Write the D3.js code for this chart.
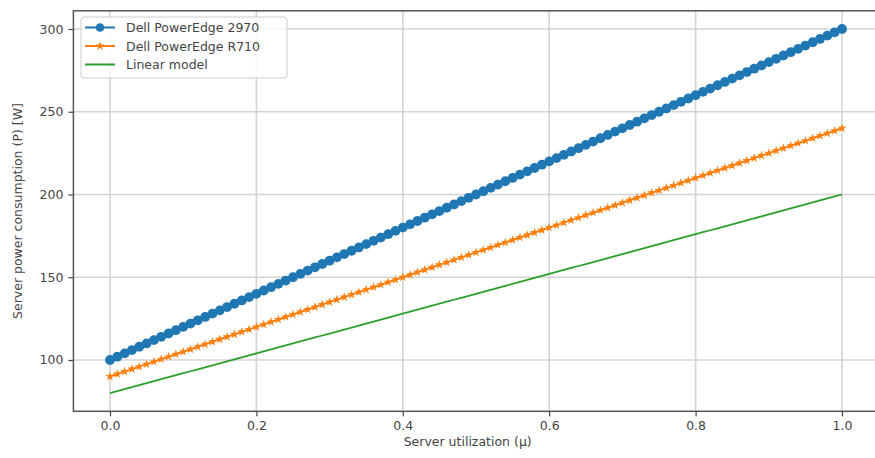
<!DOCTYPE html>
<html>
<head>
<meta charset="utf-8">
<script src="https://cdn.jsdelivr.net/npm/d3@7"></script>
<style>
  body { margin: 0; background: #fff; }
  text { font-family: "DejaVu Sans", sans-serif; fill: #333; }
</style>
</head>
<body>
<div id="chart"></div>
<script>
// utilization steps (dense markers, 0.01 apart)
const utilization = [
  0.00,0.01,0.02,0.03,0.04,0.05,0.06,0.07,0.08,0.09,
  0.10,0.11,0.12,0.13,0.14,0.15,0.16,0.17,0.18,0.19,
  0.20,0.21,0.22,0.23,0.24,0.25,0.26,0.27,0.28,0.29,
  0.30,0.31,0.32,0.33,0.34,0.35,0.36,0.37,0.38,0.39,
  0.40,0.41,0.42,0.43,0.44,0.45,0.46,0.47,0.48,0.49,
  0.50,0.51,0.52,0.53,0.54,0.55,0.56,0.57,0.58,0.59,
  0.60,0.61,0.62,0.63,0.64,0.65,0.66,0.67,0.68,0.69,
  0.70,0.71,0.72,0.73,0.74,0.75,0.76,0.77,0.78,0.79,
  0.80,0.81,0.82,0.83,0.84,0.85,0.86,0.87,0.88,0.89,
  0.90,0.91,0.92,0.93,0.94,0.95,0.96,0.97,0.98,0.99,
  1.00
];

const power2970 = [
  100,102,104,106,108,110,112,114,116,118,
  120,122,124,126,128,130,132,134,136,138,
  140,142,144,146,148,150,152,154,156,158,
  160,162,164,166,168,170,172,174,176,178,
  180,182,184,186,188,190,192,194,196,198,
  200,202,204,206,208,210,212,214,216,218,
  220,222,224,226,228,230,232,234,236,238,
  240,242,244,246,248,250,252,254,256,258,
  260,262,264,266,268,270,272,274,276,278,
  280,282,284,286,288,290,292,294,296,298,
  300
];

const powerR710 = [
  90,91.5,93,94.5,96,97.5,99,100.5,102,103.5,
  105,106.5,108,109.5,111,112.5,114,115.5,117,118.5,
  120,121.5,123,124.5,126,127.5,129,130.5,132,133.5,
  135,136.5,138,139.5,141,142.5,144,145.5,147,148.5,
  150,151.5,153,154.5,156,157.5,159,160.5,162,163.5,
  165,166.5,168,169.5,171,172.5,174,175.5,177,178.5,
  180,181.5,183,184.5,186,187.5,189,190.5,192,193.5,
  195,196.5,198,199.5,201,202.5,204,205.5,207,208.5,
  210,211.5,213,214.5,216,217.5,219,220.5,222,223.5,
  225,226.5,228,229.5,231,232.5,234,235.5,237,238.5,
  240
];

const powerLinear = [
  80,81.2,82.4,83.6,84.8,86,87.2,88.4,89.6,90.8,
  92,93.2,94.4,95.6,96.8,98,99.2,100.4,101.6,102.8,
  104,105.2,106.4,107.6,108.8,110,111.2,112.4,113.6,114.8,
  116,117.2,118.4,119.6,120.8,122,123.2,124.4,125.6,126.8,
  128,129.2,130.4,131.6,132.8,134,135.2,136.4,137.6,138.8,
  140,141.2,142.4,143.6,144.8,146,147.2,148.4,149.6,150.8,
  152,153.2,154.4,155.6,156.8,158,159.2,160.4,161.6,162.8,
  164,165.2,166.4,167.6,168.8,170,171.2,172.4,173.6,174.8,
  176,177.2,178.4,179.6,180.8,182,183.2,184.4,185.6,186.8,
  188,189.2,190.4,191.6,192.8,194,195.2,196.4,197.6,198.8,
  200
];

const seriesNames = ["Dell PowerEdge 2970", "Dell PowerEdge R710", "Linear model"];
const seriesColors = ["#1f77b4", "#ff7f0e", "#2ca02c"];
const xTicks = [0.0, 0.2, 0.4, 0.6, 0.8, 1.0];
const yTicks = [100, 150, 200, 250, 300];

const W = 875, H = 458;
const plot = { left: 73.4, right: 878.6, top: 10.8, bottom: 411.3 };

const svg = d3.select("#chart").append("svg")
    .attr("width", W).attr("height", H);

const x = d3.scaleLinear().domain([-0.05, 1.05]).range([plot.left, plot.right]);
const y = d3.scaleLinear().domain([69, 311]).range([plot.bottom, plot.top]);

// grid
svg.append("g").selectAll("line").data(xTicks).enter().append("line")
    .attr("x1", d => x(d)).attr("x2", d => x(d))
    .attr("y1", plot.top).attr("y2", plot.bottom)
    .attr("stroke", "#d3d3d3").attr("stroke-width", 1.6);
svg.append("g").selectAll("line").data(yTicks).enter().append("line")
    .attr("y1", d => y(d)).attr("y2", d => y(d))
    .attr("x1", plot.left).attr("x2", plot.right)
    .attr("stroke", "#d3d3d3").attr("stroke-width", 1.6);

// axes
const xAxis = svg.append("g")
    .attr("transform", `translate(0,${plot.bottom})`)
    .call(d3.axisBottom(x).tickValues(xTicks).tickFormat(d3.format(".1f")).tickSize(5).tickPadding(5));
const yAxis = svg.append("g")
    .attr("transform", `translate(${plot.left},0)`)
    .call(d3.axisLeft(y).tickValues(yTicks).tickSize(5).tickPadding(5));
[xAxis, yAxis].forEach(a => {
    a.select(".domain").remove();
    a.selectAll("line").attr("stroke", "#444").attr("stroke-width", 1.2);
    a.selectAll("text").style("font-size", "12.5px").style("fill", "#444");
});

// spines
svg.append("rect")
    .attr("x", plot.left).attr("y", plot.top)
    .attr("width", plot.right - plot.left).attr("height", plot.bottom - plot.top)
    .attr("fill", "none").attr("stroke", "#555").attr("stroke-width", 1.5);

// series
const seriesData = [power2970, powerR710, powerLinear];
const line = d3.line().x(d => x(d[0])).y(d => y(d[1]));

seriesData.forEach((vals, i) => {
    const pts = utilization.map((u, j) => [u, vals[j]]);
    svg.append("path").datum(pts)
        .attr("fill", "none")
        .attr("stroke", seriesColors[i])
        .attr("stroke-width", i === 2 ? 1.8 : 2)
        .attr("d", line);
    if (i === 0) {
        svg.append("g").selectAll("circle").data(pts).enter().append("circle")
            .attr("cx", d => x(d[0])).attr("cy", d => y(d[1]))
            .attr("r", 4.9).attr("fill", seriesColors[i]);
    } else if (i === 1) {
        const star = d3.symbol().type(d3.symbolStar).size(26);
        svg.append("g").selectAll("path").data(pts).enter().append("path")
            .attr("transform", d => `translate(${x(d[0])},${y(d[1])})`)
            .attr("d", star).attr("fill", seriesColors[i]);
    }
});

// labels
svg.append("text")
    .attr("x", (plot.left + 862) / 2).attr("y", 446)
    .attr("text-anchor", "middle").style("font-size", "12.5px").style("fill", "#444")
    .text("Server utilization (μ)");
svg.append("text")
    .attr("transform", `translate(22,${(plot.top + plot.bottom) / 2}) rotate(-90)`)
    .attr("text-anchor", "middle").style("font-size", "12.5px").style("fill", "#444")
    .text("Server power consumption (P) [W]");

// legend
const legend = svg.append("g").attr("transform", "translate(81,17)");
legend.append("rect")
    .attr("x", 0).attr("y", 0).attr("width", 206).attr("height", 61)
    .attr("rx", 3).attr("fill", "#fff").attr("fill-opacity", 0.85)
    .attr("stroke", "#ccc").attr("stroke-width", 1);
seriesNames.forEach((name, i) => {
    const row = legend.append("g").attr("transform", `translate(0,${10.5 + i * 18.5})`);
    row.append("line").attr("x1", 4).attr("x2", 34).attr("y1", 0).attr("y2", 0)
        .attr("stroke", seriesColors[i]).attr("stroke-width", 2);
    if (i === 0) {
        row.append("circle").attr("cx", 19).attr("cy", 0).attr("r", 4.3).attr("fill", seriesColors[i]);
    } else if (i === 1) {
        row.append("path").attr("transform", "translate(19,0)")
            .attr("d", d3.symbol().type(d3.symbolStar).size(26)).attr("fill", seriesColors[i]);
    }
    row.append("text").attr("x", 45).attr("y", 4.5)
        .style("font-size", "12.5px").style("fill", "#444").text(name);
});
</script>
</body>
</html>
